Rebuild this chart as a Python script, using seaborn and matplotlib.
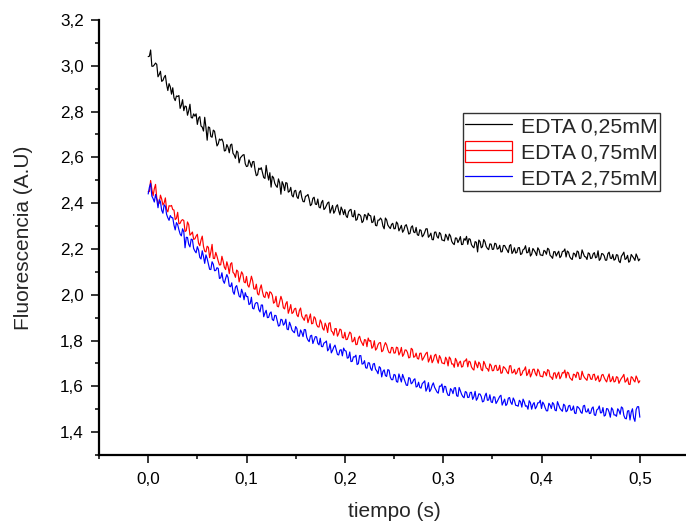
import numpy as np
import pandas as pd
import matplotlib
matplotlib.use("Agg")
import matplotlib.pyplot as plt
import seaborn as sns
from matplotlib.lines import Line2D
from matplotlib.patches import Rectangle
from matplotlib.legend_handler import HandlerTuple
from matplotlib.ticker import MultipleLocator, FuncFormatter

# Fluorescence decay traces, sampled every 1.25 ms from 0 to 0.5 s
time_s = np.arange(401) * 0.00125

edta_025 = [
    3.040, 3.042, 3.069, 2.998, 2.998, 3.004, 3.012, 3.006, 2.952, 2.962, 2.976, 2.932, 2.936, 2.950, 2.958, 2.918, 2.892, 2.922, 2.908, 2.876,
    2.904, 2.860, 2.848, 2.868, 2.866, 2.870, 2.814, 2.828, 2.852, 2.804, 2.824, 2.822, 2.784, 2.804, 2.832, 2.774, 2.772, 2.790, 2.780, 2.790,
    2.744, 2.771, 2.778, 2.737, 2.732, 2.715, 2.775, 2.731, 2.675, 2.733, 2.730, 2.691, 2.688, 2.719, 2.714, 2.681, 2.650, 2.659, 2.680, 2.675,
    2.680, 2.666, 2.628, 2.630, 2.656, 2.644, 2.620, 2.654, 2.658, 2.618, 2.610, 2.596, 2.628, 2.622, 2.576, 2.598, 2.604, 2.610, 2.612, 2.572,
    2.560, 2.562, 2.589, 2.575, 2.557, 2.581, 2.582, 2.544, 2.520, 2.524, 2.553, 2.547, 2.555, 2.533, 2.512, 2.508, 2.565, 2.528, 2.501, 2.533,
    2.470, 2.518, 2.511, 2.487, 2.476, 2.469, 2.506, 2.488, 2.439, 2.494, 2.481, 2.455, 2.490, 2.487, 2.448, 2.452, 2.469, 2.434, 2.427, 2.453,
    2.456, 2.428, 2.420, 2.447, 2.455, 2.425, 2.407, 2.406, 2.430, 2.432, 2.438, 2.417, 2.389, 2.395, 2.421, 2.426, 2.396, 2.394, 2.418, 2.383,
    2.379, 2.403, 2.412, 2.372, 2.378, 2.390, 2.401, 2.405, 2.357, 2.373, 2.390, 2.356, 2.366, 2.386, 2.393, 2.367, 2.349, 2.383, 2.370, 2.350,
    2.372, 2.345, 2.337, 2.362, 2.370, 2.373, 2.343, 2.340, 2.368, 2.325, 2.329, 2.352, 2.350, 2.343, 2.315, 2.322, 2.350, 2.347, 2.327, 2.356,
    2.346, 2.345, 2.315, 2.318, 2.344, 2.303, 2.301, 2.326, 2.326, 2.335, 2.327, 2.300, 2.288, 2.335, 2.327, 2.304, 2.296, 2.289, 2.307, 2.312,
    2.288, 2.289, 2.318, 2.310, 2.279, 2.290, 2.303, 2.273, 2.282, 2.301, 2.306, 2.288, 2.265, 2.268, 2.295, 2.301, 2.274, 2.271, 2.294, 2.262,
    2.259, 2.284, 2.281, 2.253, 2.260, 2.273, 2.288, 2.288, 2.251, 2.258, 2.269, 2.241, 2.240, 2.273, 2.274, 2.254, 2.247, 2.272, 2.265, 2.239,
    2.238, 2.235, 2.264, 2.253, 2.238, 2.265, 2.256, 2.233, 2.224, 2.219, 2.248, 2.247, 2.228, 2.239, 2.254, 2.219, 2.220, 2.245, 2.238, 2.255,
    2.220, 2.245, 2.242, 2.219, 2.210, 2.205, 2.232, 2.229, 2.187, 2.239, 2.232, 2.205, 2.210, 2.241, 2.232, 2.211, 2.202, 2.197, 2.222, 2.221,
    2.198, 2.199, 2.225, 2.222, 2.199, 2.202, 2.216, 2.187, 2.188, 2.215, 2.215, 2.204, 2.195, 2.184, 2.214, 2.219, 2.180, 2.189, 2.205, 2.182,
    2.185, 2.205, 2.206, 2.176, 2.179, 2.197, 2.200, 2.214, 2.183, 2.185, 2.206, 2.169, 2.177, 2.202, 2.194, 2.185, 2.171, 2.205, 2.196, 2.174,
    2.173, 2.171, 2.194, 2.190, 2.177, 2.203, 2.198, 2.172, 2.167, 2.159, 2.188, 2.188, 2.169, 2.181, 2.190, 2.162, 2.169, 2.189, 2.190, 2.200,
    2.165, 2.191, 2.186, 2.166, 2.158, 2.154, 2.182, 2.179, 2.165, 2.191, 2.187, 2.158, 2.160, 2.196, 2.182, 2.167, 2.165, 2.154, 2.183, 2.180,
    2.158, 2.160, 2.178, 2.184, 2.161, 2.165, 2.192, 2.150, 2.157, 2.180, 2.178, 2.170, 2.151, 2.151, 2.179, 2.186, 2.160, 2.158, 2.176, 2.151,
    2.155, 2.175, 2.173, 2.147, 2.140, 2.168, 2.176, 2.186, 2.154, 2.158, 2.172, 2.142, 2.148, 2.176, 2.168, 2.160, 2.150, 2.178, 2.165, 2.148,
    2.156,
]

edta_075 = [
    2.450, 2.451, 2.499, 2.460, 2.432, 2.463, 2.482, 2.422, 2.402, 2.399, 2.435, 2.418, 2.392, 2.401, 2.423, 2.372, 2.362, 2.389, 2.387, 2.390,
    2.372, 2.370, 2.328, 2.334, 2.360, 2.310, 2.312, 2.324, 2.328, 2.324, 2.276, 2.280, 2.318, 2.306, 2.260, 2.266, 2.274, 2.242, 2.244, 2.256,
    2.264, 2.225, 2.214, 2.239, 2.256, 2.211, 2.190, 2.187, 2.212, 2.207, 2.162, 2.187, 2.220, 2.159, 2.158, 2.185, 2.168, 2.147, 2.130, 2.131,
    2.168, 2.146, 2.120, 2.110, 2.144, 2.124, 2.092, 2.134, 2.140, 2.098, 2.092, 2.076, 2.108, 2.102, 2.056, 2.078, 2.100, 2.090, 2.056, 2.052,
    2.080, 2.042, 2.033, 2.055, 2.081, 2.061, 2.026, 2.024, 2.046, 2.004, 1.999, 2.027, 2.043, 2.013, 1.992, 1.988, 2.012, 2.008, 1.985, 2.013,
    2.009, 1.998, 1.963, 1.968, 1.993, 1.950, 1.947, 1.970, 1.993, 1.976, 1.943, 1.938, 1.961, 1.970, 1.919, 1.936, 1.957, 1.918, 1.923, 1.938,
    1.941, 1.912, 1.904, 1.931, 1.942, 1.907, 1.897, 1.888, 1.911, 1.912, 1.878, 1.897, 1.916, 1.873, 1.875, 1.904, 1.897, 1.870, 1.860, 1.859,
    1.890, 1.878, 1.853, 1.845, 1.876, 1.862, 1.835, 1.875, 1.878, 1.842, 1.837, 1.823, 1.852, 1.852, 1.819, 1.831, 1.850, 1.846, 1.813, 1.811,
    1.836, 1.804, 1.805, 1.821, 1.837, 1.831, 1.794, 1.798, 1.814, 1.782, 1.783, 1.809, 1.819, 1.799, 1.788, 1.778, 1.804, 1.802, 1.773, 1.811,
    1.797, 1.800, 1.766, 1.773, 1.799, 1.758, 1.765, 1.782, 1.790, 1.791, 1.751, 1.756, 1.776, 1.791, 1.781, 1.760, 1.747, 1.746, 1.770, 1.769,
    1.745, 1.746, 1.771, 1.768, 1.737, 1.748, 1.770, 1.731, 1.740, 1.759, 1.758, 1.747, 1.724, 1.727, 1.766, 1.761, 1.727, 1.730, 1.745, 1.722,
    1.719, 1.744, 1.745, 1.714, 1.723, 1.734, 1.744, 1.749, 1.706, 1.719, 1.736, 1.703, 1.714, 1.735, 1.740, 1.717, 1.701, 1.734, 1.723, 1.702,
    1.701, 1.698, 1.727, 1.716, 1.689, 1.728, 1.720, 1.697, 1.698, 1.683, 1.722, 1.711, 1.686, 1.703, 1.710, 1.684, 1.687, 1.710, 1.711, 1.720,
    1.685, 1.710, 1.706, 1.685, 1.676, 1.671, 1.711, 1.696, 1.681, 1.706, 1.698, 1.673, 1.668, 1.709, 1.697, 1.680, 1.677, 1.666, 1.698, 1.691,
    1.668, 1.669, 1.689, 1.692, 1.669, 1.672, 1.692, 1.657, 1.659, 1.686, 1.681, 1.674, 1.662, 1.655, 1.689, 1.690, 1.658, 1.661, 1.674, 1.653,
    1.659, 1.676, 1.680, 1.647, 1.653, 1.668, 1.672, 1.685, 1.647, 1.656, 1.674, 1.641, 1.654, 1.674, 1.675, 1.656, 1.646, 1.675, 1.665, 1.644,
    1.644, 1.641, 1.665, 1.660, 1.646, 1.673, 1.669, 1.642, 1.640, 1.630, 1.658, 1.659, 1.635, 1.652, 1.662, 1.633, 1.643, 1.660, 1.658, 1.671,
    1.637, 1.662, 1.658, 1.638, 1.632, 1.626, 1.653, 1.651, 1.638, 1.662, 1.658, 1.630, 1.631, 1.666, 1.648, 1.638, 1.632, 1.626, 1.653, 1.651,
    1.632, 1.630, 1.651, 1.653, 1.626, 1.634, 1.646, 1.620, 1.627, 1.649, 1.652, 1.638, 1.627, 1.619, 1.640, 1.654, 1.620, 1.626, 1.643, 1.619,
    1.622, 1.642, 1.639, 1.613, 1.625, 1.635, 1.642, 1.652, 1.618, 1.624, 1.637, 1.609, 1.608, 1.642, 1.638, 1.626, 1.619, 1.645, 1.633, 1.615,
    1.624,
]

edta_275 = [
    2.440, 2.469, 2.486, 2.431, 2.420, 2.405, 2.438, 2.417, 2.380, 2.415, 2.406, 2.369, 2.356, 2.393, 2.386, 2.351, 2.336, 2.325, 2.346, 2.337,
    2.336, 2.304, 2.283, 2.315, 2.306, 2.284, 2.265, 2.257, 2.288, 2.274, 2.205, 2.251, 2.250, 2.220, 2.209, 2.243, 2.240, 2.202, 2.191, 2.183,
    2.210, 2.195, 2.163, 2.156, 2.192, 2.167, 2.137, 2.174, 2.158, 2.135, 2.111, 2.110, 2.144, 2.133, 2.105, 2.106, 2.118, 2.115, 2.071, 2.074,
    2.096, 2.061, 2.050, 2.071, 2.088, 2.075, 2.038, 2.035, 2.052, 2.013, 2.002, 2.033, 2.040, 2.017, 1.994, 1.989, 2.024, 2.007, 1.978, 2.009,
    1.992, 1.992, 1.957, 1.961, 1.989, 1.941, 1.938, 1.960, 1.966, 1.964, 1.935, 1.925, 1.955, 1.955, 1.904, 1.920, 1.932, 1.900, 1.901, 1.919,
    1.925, 1.892, 1.887, 1.910, 1.909, 1.886, 1.863, 1.866, 1.893, 1.890, 1.867, 1.874, 1.893, 1.850, 1.847, 1.880, 1.865, 1.846, 1.839, 1.834,
    1.861, 1.852, 1.820, 1.819, 1.846, 1.835, 1.817, 1.848, 1.847, 1.814, 1.802, 1.795, 1.820, 1.823, 1.787, 1.802, 1.817, 1.816, 1.788, 1.781,
    1.810, 1.774, 1.773, 1.789, 1.792, 1.798, 1.755, 1.763, 1.786, 1.746, 1.757, 1.771, 1.780, 1.760, 1.739, 1.737, 1.758, 1.760, 1.733, 1.767,
    1.756, 1.754, 1.723, 1.725, 1.750, 1.708, 1.709, 1.729, 1.728, 1.736, 1.695, 1.699, 1.734, 1.734, 1.697, 1.699, 1.712, 1.681, 1.679, 1.703,
    1.702, 1.678, 1.669, 1.697, 1.700, 1.674, 1.667, 1.655, 1.686, 1.680, 1.641, 1.665, 1.672, 1.647, 1.643, 1.673, 1.670, 1.640, 1.629, 1.629,
    1.652, 1.649, 1.621, 1.618, 1.654, 1.637, 1.619, 1.652, 1.636, 1.621, 1.605, 1.604, 1.638, 1.635, 1.611, 1.616, 1.628, 1.633, 1.597, 1.600,
    1.618, 1.595, 1.592, 1.612, 1.617, 1.624, 1.579, 1.591, 1.616, 1.577, 1.586, 1.604, 1.615, 1.596, 1.585, 1.575, 1.570, 1.601, 1.600, 1.610,
    1.573, 1.600, 1.599, 1.574, 1.561, 1.560, 1.590, 1.583, 1.568, 1.593, 1.594, 1.559, 1.556, 1.595, 1.580, 1.565, 1.555, 1.550, 1.577, 1.574,
    1.551, 1.552, 1.573, 1.574, 1.543, 1.555, 1.578, 1.539, 1.548, 1.567, 1.566, 1.555, 1.532, 1.535, 1.558, 1.570, 1.539, 1.540, 1.563, 1.532,
    1.529, 1.554, 1.553, 1.525, 1.534, 1.545, 1.556, 1.561, 1.518, 1.531, 1.544, 1.516, 1.523, 1.548, 1.551, 1.530, 1.521, 1.549, 1.538, 1.517,
    1.516, 1.513, 1.539, 1.532, 1.509, 1.544, 1.532, 1.513, 1.515, 1.500, 1.537, 1.528, 1.500, 1.521, 1.529, 1.502, 1.511, 1.528, 1.528, 1.539,
    1.503, 1.531, 1.522, 1.506, 1.493, 1.493, 1.526, 1.518, 1.503, 1.529, 1.522, 1.496, 1.493, 1.533, 1.518, 1.504, 1.497, 1.491, 1.522, 1.516,
    1.489, 1.494, 1.514, 1.517, 1.495, 1.498, 1.514, 1.483, 1.481, 1.512, 1.508, 1.501, 1.487, 1.482, 1.514, 1.517, 1.489, 1.488, 1.502, 1.481,
    1.483, 1.504, 1.510, 1.475, 1.473, 1.497, 1.501, 1.514, 1.484, 1.485, 1.507, 1.470, 1.474, 1.503, 1.501, 1.487, 1.465, 1.506, 1.498, 1.475,
    1.475, 1.469, 1.502, 1.494, 1.478, 1.510, 1.505, 1.473, 1.460, 1.458, 1.492, 1.494, 1.453, 1.487, 1.502, 1.462, 1.447, 1.498, 1.511, 1.511,
    1.465,
]

series_labels = ["EDTA 0,25mM", "EDTA 0,75mM", "EDTA 2,75mM"]
series_colors = ["#000000", "#ff0000", "#0000ff"]

df = pd.concat(
    [
        pd.DataFrame({"tiempo": time_s, "fluor": vals, "serie": lab})
        for vals, lab in zip([edta_025, edta_075, edta_275], series_labels)
    ],
    ignore_index=True,
)

sns.set_style("ticks")
plt.rcParams["font.family"] = ["Liberation Sans", "DejaVu Sans"]

fig = plt.figure(figsize=(6.86, 5.22), dpi=100)
ax = fig.add_axes([99 / 686, 1 - 455 / 522, 590 / 686, 435 / 522])

sns.lineplot(
    data=df, x="tiempo", y="fluor", hue="serie",
    palette=dict(zip(series_labels, series_colors)),
    estimator=None, sort=False, linewidth=0.85, legend=False, ax=ax,
)

ax.set_xlim(-0.05, 0.55)
ax.set_ylim(1.3, 3.2)
ax.xaxis.set_major_locator(MultipleLocator(0.1))
ax.xaxis.set_minor_locator(MultipleLocator(0.05))
ax.yaxis.set_major_locator(MultipleLocator(0.2))
ax.yaxis.set_minor_locator(MultipleLocator(0.1))
comma = FuncFormatter(lambda v, p: f"{v:.1f}".replace(".", ",").replace("-0,0", "0,0"))
ax.xaxis.set_major_formatter(comma)
ax.yaxis.set_major_formatter(comma)

for side in ("top", "right"):
    ax.spines[side].set_visible(False)
for side in ("left", "bottom"):
    ax.spines[side].set_linewidth(1.6)
    ax.spines[side].set_color("black")

ax.tick_params(which="major", direction="out", length=6, width=1.1,
               labelsize=12.3, colors="black")
ax.tick_params(which="minor", direction="out", length=3, width=1.1, colors="black")
ax.tick_params(axis="x", which="major", pad=6)
ax.tick_params(axis="y", which="major", pad=5)

ax.set_xlabel("tiempo (s)", fontsize=15, labelpad=11)
ax.set_ylabel("Fluorescencia (A.U)", fontsize=15, labelpad=19)

handles = [
    Line2D([], [], color="#000000", linewidth=0.9),
    (Rectangle((0, 0), 1, 1, fill=False, edgecolor="#ff0000", linewidth=0.9),
     Line2D([], [], color="#ff0000", linewidth=0.9)),
    Line2D([], [], color="#0000ff", linewidth=0.9),
]
leg = ax.legend(
    handles, series_labels,
    handler_map={tuple: HandlerTuple(ndivide=1, pad=0)},
    loc="upper left", bbox_to_anchor=(0.617, 0.786), borderaxespad=0,
    fontsize=15.3, frameon=True, fancybox=False, framealpha=1,
    edgecolor="#333333", handlelength=2.2, handletextpad=0.42,
    borderpad=0.1, labelspacing=0.2, handleheight=1.15,
)
leg.get_frame().set_linewidth(1.0)

fig.savefig("out.png", dpi=100)
